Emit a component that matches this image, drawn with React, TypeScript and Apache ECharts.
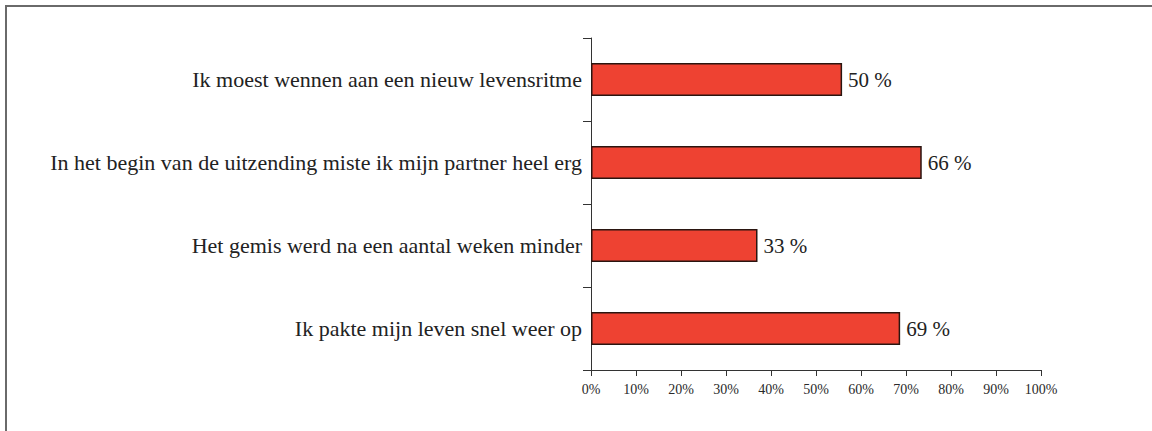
import React, { useEffect, useRef } from "react";
import * as echarts from "echarts";

const categories = [
  "Ik moest wennen aan een nieuw levensritme",
  "In het begin van de uitzending miste ik mijn partner heel erg",
  "Het gemis werd na een aantal weken minder",
  "Ik pakte mijn leven snel weer op",
];
// bar lengths as drawn against the axis
const barLengths = [55.8, 73.5, 37.0, 68.7];
// printed value labels
const percentLabels = ["50 %", "66 %", "33 %", "69 %"];
const xTicks = [0, 10, 20, 30, 40, 50, 60, 70, 80, 90, 100];

export default function App() {
  const ref = useRef<HTMLDivElement>(null);
  useEffect(() => {
    if (!ref.current) return;
    const chart = echarts.init(ref.current, undefined, { renderer: "svg" });
    const font = "'Liberation Serif', 'Times New Roman', serif";
    chart.setOption({
      animation: false,
      backgroundColor: "#ffffff",
      textStyle: { fontFamily: font },
      grid: { left: 591, right: 111, top: 38, bottom: 61, containLabel: false },
      xAxis: {
        type: "value",
        min: xTicks[0],
        max: xTicks[xTicks.length - 1],
        interval: 10,
        splitLine: { show: false },
        axisLine: { show: true, lineStyle: { color: "#333", width: 1 } },
        axisTick: { show: true, length: 6, lineStyle: { color: "#333" } },
        axisLabel: {
          formatter: "{value}%",
          fontFamily: font,
          fontSize: 14,
          color: "#2a2a2a",
          margin: 12,
        },
      },
      yAxis: {
        type: "category",
        data: categories,
        inverse: true,
        axisLine: { show: true, lineStyle: { color: "#333", width: 1 } },
        axisTick: { show: true, length: 8, lineStyle: { color: "#333" } },
        axisLabel: {
          fontFamily: font,
          fontSize: 22,
          color: "#222",
          margin: 9,
        },
      },
      series: [
        {
          type: "bar",
          data: barLengths,
          barWidth: 33,
          itemStyle: {
            color: "#ee4232",
            borderColor: "#2a1510",
            borderWidth: 1.5,
          },
          label: {
            show: true,
            position: "right",
            distance: 6,
            fontFamily: font,
            fontSize: 21,
            color: "#222",
            formatter: (p: any) => percentLabels[p.dataIndex],
          },
        },
      ],
      graphic: [
        {
          type: "line",
          shape: { x1: 5, y1: 6, x2: 1152, y2: 6 },
          style: { stroke: "#6a6a6a", lineWidth: 2 },
        },
        {
          type: "line",
          shape: { x1: 6, y1: 5, x2: 6, y2: 431 },
          style: { stroke: "#6a6a6a", lineWidth: 2 },
        },
      ],
    });
    return () => chart.dispose();
  }, []);
  return (
    <div
      ref={ref}
      style={{ position: "absolute", left: 0, top: 0, width: 1152, height: 431 }}
    />
  );
}
